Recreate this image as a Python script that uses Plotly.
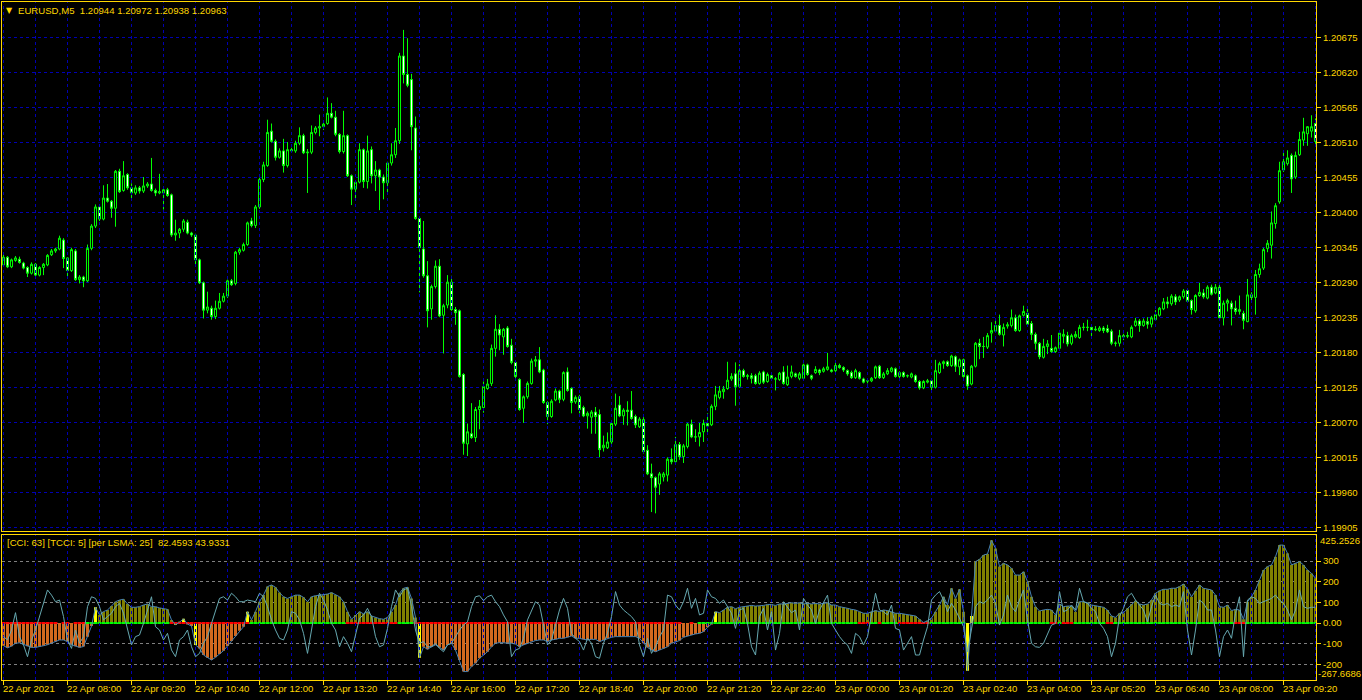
import pandas as pd
import plotly.graph_objects as go

# ---------------- data ----------------
times = pd.date_range("2021-04-22 06:40", periods=329, freq="5min")

open_ = [
1.20318,1.20330,1.20315,1.20325,1.20327,1.20321,1.20314,1.20305,1.20319,1.20302,
1.20314,1.20318,1.20334,1.20340,1.20343,1.20357,1.20329,1.20309,1.20340,1.20295,
1.20299,1.20293,1.20344,1.20379,1.20409,1.20390,1.20423,1.20418,1.20407,1.20465,
1.20435,1.20460,1.20439,1.20431,1.20439,1.20434,1.20442,1.20445,1.20435,1.20431,
1.20431,1.20436,1.20428,1.20365,1.20368,1.20374,1.20385,1.20368,1.20365,1.20326,
1.20290,1.20247,1.20250,1.20237,1.20250,1.20261,1.20269,1.20293,1.20289,1.20338,
1.20341,1.20350,1.20387,1.20380,1.20409,1.20452,1.20474,1.20528,1.20512,1.20487,
1.20497,1.20474,1.20499,1.20497,1.20509,1.20521,1.20494,1.20495,1.20526,1.20533,
1.20535,1.20540,1.20556,1.20550,1.20523,1.20496,1.20521,1.20458,1.20437,1.20448,
1.20499,1.20449,1.20499,1.20458,1.20467,1.20456,1.20447,1.20478,1.20491,1.20513,
1.20646,1.20617,1.20609,1.20533,1.20391,1.20343,1.20301,1.20249,1.20284,1.20316,
1.20239,1.20255,1.20291,1.20248,1.20246,1.20146,1.20037,1.20053,1.20047,1.20091,
1.20094,1.20124,1.20132,1.20187,1.20217,1.20205,1.20219,1.20192,1.20165,1.20138,
1.20093,1.20111,1.20132,1.20167,1.20169,1.20153,1.20102,1.20080,1.20106,1.20120,
1.20107,1.20150,1.20124,1.20103,1.20111,1.20094,1.20081,1.20079,1.20087,1.20083,
1.20031,1.20031,1.20040,1.20068,1.20098,1.20081,1.20090,1.20090,1.20080,1.20064,
1.20075,1.20027,1.19990,1.19984,1.19974,1.19985,1.19988,1.20013,1.20009,1.20036,
1.20017,1.20033,1.20068,1.20048,1.20048,1.20056,1.20069,1.20067,1.20096,1.20110,
1.20119,1.20124,1.20139,1.20147,1.20127,1.20152,1.20143,1.20144,1.20144,1.20132,
1.20150,1.20135,1.20144,1.20139,1.20138,1.20150,1.20130,1.20143,1.20147,1.20140,
1.20140,1.20161,1.20144,1.20149,1.20153,1.20151,1.20154,1.20153,1.20152,1.20160,
1.20157,1.20152,1.20149,1.20141,1.20149,1.20139,1.20136,1.20136,1.20141,1.20159,
1.20141,1.20147,1.20151,1.20155,1.20143,1.20149,1.20144,1.20142,1.20144,1.20135,
1.20125,1.20134,1.20136,1.20126,1.20149,1.20163,1.20166,1.20160,1.20174,1.20158,
1.20169,1.20144,1.20131,1.20159,1.20195,1.20190,1.20189,1.20211,1.20214,1.20223,
1.20208,1.20222,1.20223,1.20235,1.20215,1.20239,1.20242,1.20226,1.20209,1.20195,
1.20173,1.20190,1.20187,1.20182,1.20187,1.20206,1.20207,1.20195,1.20205,1.20204,
1.20220,1.20220,1.20220,1.20216,1.20215,1.20219,1.20218,1.20214,1.20195,1.20195,
1.20207,1.20206,1.20205,1.20223,1.20230,1.20223,1.20229,1.20225,1.20232,1.20239,
1.20249,1.20260,1.20257,1.20268,1.20263,1.20268,1.20278,1.20262,1.20246,1.20270,
1.20274,1.20266,1.20283,1.20274,1.20283,1.20235,1.20258,1.20258,1.20250,1.20245,
1.20242,1.20229,1.20271,1.20267,1.20303,1.20313,1.20344,1.20349,1.20383,1.20417,
1.20467,1.20477,1.20490,1.20456,1.20491,1.20514,1.20524,1.20528,1.20540]

high = [
1.20334,1.20332,1.20328,1.20332,1.20331,1.20323,1.20316,1.20322,1.20321,1.20316,
1.20321,1.20335,1.20343,1.20345,1.20364,1.20360,1.20330,1.20345,1.20343,1.20302,
1.20301,1.20350,1.20382,1.20413,1.20412,1.20443,1.20445,1.20420,1.20467,1.20469,
1.20481,1.20462,1.20446,1.20443,1.20442,1.20456,1.20448,1.20486,1.20438,1.20461,
1.20437,1.20439,1.20430,1.20389,1.20376,1.20390,1.20389,1.20370,1.20367,1.20328,
1.20292,1.20276,1.20254,1.20262,1.20274,1.20274,1.20295,1.20296,1.20340,1.20345,
1.20353,1.20386,1.20392,1.20412,1.20455,1.20480,1.20546,1.20540,1.20515,1.20501,
1.20516,1.20511,1.20502,1.20513,1.20534,1.20524,1.20500,1.20537,1.20536,1.20554,
1.20542,1.20581,1.20572,1.20560,1.20525,1.20560,1.20523,1.20460,1.20450,1.20509,
1.20501,1.20521,1.20504,1.20481,1.20469,1.20460,1.20480,1.20509,1.20533,1.20651,
1.20687,1.20674,1.20618,1.20551,1.20394,1.20387,1.20324,1.20287,1.20325,1.20327,
1.20257,1.20302,1.20301,1.20252,1.20248,1.20148,1.20069,1.20101,1.20095,1.20106,
1.20135,1.20139,1.20193,1.20239,1.20225,1.20219,1.20222,1.20202,1.20167,1.20140,
1.20113,1.20135,1.20171,1.20175,1.20189,1.20155,1.20104,1.20107,1.20124,1.20122,
1.20151,1.20157,1.20126,1.20113,1.20114,1.20097,1.20088,1.20090,1.20095,1.20091,
1.20050,1.20055,1.20072,1.20116,1.20112,1.20093,1.20104,1.20120,1.20083,1.20079,
1.20079,1.20035,1.20006,1.19986,1.19993,1.19993,1.20016,1.20030,1.20048,1.20040,
1.20037,1.20070,1.20075,1.20060,1.20070,1.20075,1.20085,1.20099,1.20128,1.20128,
1.20128,1.20166,1.20148,1.20165,1.20162,1.20155,1.20147,1.20148,1.20147,1.20151,
1.20152,1.20149,1.20146,1.20142,1.20150,1.20159,1.20160,1.20160,1.20149,1.20150,
1.20163,1.20163,1.20146,1.20159,1.20155,1.20158,1.20180,1.20155,1.20168,1.20163,
1.20159,1.20154,1.20152,1.20155,1.20151,1.20141,1.20140,1.20142,1.20160,1.20161,
1.20150,1.20156,1.20158,1.20157,1.20151,1.20151,1.20146,1.20149,1.20146,1.20137,
1.20137,1.20139,1.20138,1.20169,1.20166,1.20168,1.20168,1.20177,1.20176,1.20171,
1.20171,1.20146,1.20161,1.20197,1.20202,1.20205,1.20211,1.20228,1.20232,1.20240,
1.20226,1.20228,1.20248,1.20240,1.20240,1.20254,1.20250,1.20230,1.20212,1.20197,
1.20202,1.20200,1.20208,1.20190,1.20213,1.20217,1.20213,1.20210,1.20214,1.20224,
1.20227,1.20232,1.20224,1.20222,1.20222,1.20222,1.20224,1.20217,1.20198,1.20216,
1.20210,1.20213,1.20223,1.20235,1.20233,1.20234,1.20236,1.20238,1.20247,1.20252,
1.20266,1.20268,1.20272,1.20272,1.20270,1.20280,1.20280,1.20264,1.20272,1.20290,
1.20280,1.20286,1.20287,1.20288,1.20290,1.20262,1.20265,1.20262,1.20262,1.20270,
1.20246,1.20296,1.20275,1.20310,1.20320,1.20345,1.20357,1.20402,1.20415,1.20480,
1.20495,1.20498,1.20493,1.20496,1.20527,1.20549,1.20536,1.20553,1.20548]

low = [
1.20315,1.20313,1.20313,1.20323,1.20320,1.20311,1.20299,1.20303,1.20300,1.20300,
1.20302,1.20316,1.20332,1.20337,1.20341,1.20313,1.20297,1.20307,1.20293,1.20289,
1.20283,1.20291,1.20341,1.20376,1.20387,1.20388,1.20416,1.20392,1.20378,1.20431,
1.20433,1.20436,1.20420,1.20428,1.20430,1.20431,1.20439,1.20433,1.20426,1.20429,
1.20405,1.20425,1.20362,1.20356,1.20360,1.20370,1.20366,1.20362,1.20318,1.20288,
1.20234,1.20242,1.20232,1.20233,1.20248,1.20259,1.20266,1.20285,1.20286,1.20334,
1.20339,1.20348,1.20377,1.20376,1.20406,1.20448,1.20472,1.20510,1.20482,1.20485,
1.20463,1.20471,1.20494,1.20494,1.20506,1.20492,1.20431,1.20492,1.20523,1.20520,
1.20530,1.20538,1.20548,1.20520,1.20493,1.20493,1.20456,1.20412,1.20420,1.20446,
1.20439,1.20438,1.20446,1.20434,1.20404,1.20421,1.20431,1.20474,1.20486,1.20508,
1.20603,1.20597,1.20498,1.20389,1.20275,1.20298,1.20220,1.20232,1.20281,1.20236,
1.20179,1.20250,1.20246,1.20224,1.20141,1.20020,1.20018,1.20045,1.20040,1.20060,
1.20086,1.20122,1.20128,1.20174,1.20184,1.20177,1.20188,1.20162,1.20139,1.20089,
1.20070,1.20108,1.20130,1.20158,1.20148,1.20100,1.20068,1.20078,1.20104,1.20101,
1.20104,1.20119,1.20085,1.20100,1.20085,1.20079,1.20061,1.20053,1.20053,1.20016,
1.20025,1.20029,1.20037,1.20065,1.20079,1.20067,1.20066,1.20075,1.20062,1.20062,
1.20022,1.19988,1.19930,1.19928,1.19957,1.19978,1.19978,1.20005,1.20007,1.20012,
1.20007,1.20030,1.20046,1.20040,1.20033,1.20040,1.20054,1.20065,1.20090,1.20107,
1.20108,1.20122,1.20136,1.20097,1.20125,1.20141,1.20138,1.20132,1.20130,1.20130,
1.20131,1.20133,1.20138,1.20121,1.20136,1.20130,1.20128,1.20140,1.20141,1.20137,
1.20138,1.20144,1.20137,1.20147,1.20145,1.20149,1.20152,1.20149,1.20150,1.20155,
1.20150,1.20144,1.20139,1.20139,1.20138,1.20132,1.20132,1.20134,1.20139,1.20139,
1.20139,1.20145,1.20149,1.20141,1.20139,1.20141,1.20141,1.20140,1.20133,1.20122,
1.20123,1.20132,1.20121,1.20124,1.20147,1.20155,1.20158,1.20158,1.20150,1.20145,
1.20141,1.20122,1.20129,1.20157,1.20170,1.20172,1.20186,1.20196,1.20212,1.20207,
1.20190,1.20218,1.20220,1.20213,1.20213,1.20237,1.20222,1.20200,1.20185,1.20170,
1.20171,1.20178,1.20180,1.20180,1.20185,1.20195,1.20190,1.20192,1.20203,1.20202,
1.20215,1.20214,1.20206,1.20214,1.20213,1.20211,1.20211,1.20192,1.20190,1.20190,
1.20200,1.20203,1.20203,1.20221,1.20213,1.20221,1.20218,1.20220,1.20230,1.20237,
1.20247,1.20250,1.20254,1.20255,1.20260,1.20265,1.20259,1.20240,1.20243,1.20268,
1.20265,1.20264,1.20270,1.20272,1.20230,1.20223,1.20245,1.20223,1.20240,1.20240,
1.20217,1.20228,1.20260,1.20240,1.20298,1.20310,1.20338,1.20328,1.20375,1.20414,
1.20464,1.20474,1.20431,1.20453,1.20489,1.20505,1.20505,1.20518,1.20508]

close = [
1.20330,1.20315,1.20326,1.20329,1.20322,1.20313,1.20305,1.20319,1.20302,1.20314,
1.20319,1.20333,1.20340,1.20343,1.20360,1.20328,1.20309,1.20342,1.20295,1.20299,
1.20293,1.20344,1.20379,1.20409,1.20390,1.20423,1.20418,1.20407,1.20465,1.20433,
1.20458,1.20439,1.20431,1.20439,1.20434,1.20442,1.20445,1.20435,1.20431,1.20433,
1.20436,1.20427,1.20365,1.20368,1.20374,1.20387,1.20368,1.20365,1.20326,1.20290,
1.20247,1.20252,1.20237,1.20250,1.20261,1.20269,1.20293,1.20287,1.20338,1.20342,
1.20350,1.20384,1.20380,1.20409,1.20452,1.20475,1.20526,1.20512,1.20487,1.20497,
1.20474,1.20499,1.20497,1.20509,1.20521,1.20494,1.20495,1.20526,1.20533,1.20535,
1.20539,1.20556,1.20550,1.20523,1.20496,1.20521,1.20458,1.20437,1.20448,1.20499,
1.20449,1.20497,1.20458,1.20467,1.20456,1.20447,1.20478,1.20491,1.20513,1.20646,
1.20617,1.20600,1.20535,1.20391,1.20345,1.20301,1.20246,1.20284,1.20316,1.20238,
1.20254,1.20291,1.20248,1.20243,1.20143,1.20038,1.20056,1.20047,1.20091,1.20096,
1.20127,1.20131,1.20187,1.20217,1.20208,1.20217,1.20190,1.20165,1.20143,1.20091,
1.20111,1.20132,1.20167,1.20169,1.20150,1.20102,1.20080,1.20104,1.20120,1.20107,
1.20149,1.20121,1.20102,1.20110,1.20091,1.20081,1.20085,1.20087,1.20080,1.20028,
1.20035,1.20040,1.20069,1.20093,1.20081,1.20090,1.20088,1.20077,1.20067,1.20076,
1.20025,1.19990,1.19984,1.19969,1.19990,1.19990,1.20013,1.20009,1.20036,1.20017,
1.20034,1.20068,1.20048,1.20048,1.20055,1.20069,1.20065,1.20096,1.20114,1.20120,
1.20123,1.20137,1.20143,1.20127,1.20152,1.20143,1.20144,1.20140,1.20132,1.20148,
1.20134,1.20146,1.20140,1.20139,1.20148,1.20132,1.20142,1.20150,1.20143,1.20147,
1.20161,1.20146,1.20140,1.20154,1.20149,1.20155,1.20158,1.20151,1.20160,1.20157,
1.20153,1.20147,1.20141,1.20152,1.20140,1.20134,1.20136,1.20140,1.20158,1.20141,
1.20147,1.20152,1.20156,1.20143,1.20149,1.20143,1.20144,1.20147,1.20135,1.20125,
1.20135,1.20136,1.20126,1.20152,1.20163,1.20166,1.20160,1.20175,1.20159,1.20169,
1.20143,1.20128,1.20159,1.20195,1.20190,1.20190,1.20207,1.20215,1.20223,1.20209,
1.20220,1.20224,1.20235,1.20215,1.20238,1.20245,1.20225,1.20209,1.20195,1.20174,
1.20190,1.20194,1.20182,1.20188,1.20211,1.20209,1.20194,1.20207,1.20209,1.20220,
1.20220,1.20220,1.20216,1.20217,1.20219,1.20215,1.20213,1.20195,1.20195,1.20207,
1.20205,1.20207,1.20220,1.20230,1.20223,1.20230,1.20225,1.20235,1.20240,1.20250,
1.20260,1.20257,1.20269,1.20260,1.20268,1.20277,1.20261,1.20248,1.20270,1.20275,
1.20268,1.20283,1.20272,1.20283,1.20235,1.20258,1.20262,1.20249,1.20245,1.20248,
1.20231,1.20271,1.20267,1.20303,1.20312,1.20342,1.20352,1.20384,1.20411,1.20466,
1.20480,1.20486,1.20453,1.20490,1.20515,1.20527,1.20535,1.20535,1.20512]

# CCI(63) histogram values
cci_hist = [
-110,-120,-112,-98,-96,-104,-112,-118,-118,-115,
-110,-105,-98,-90,-82,-82,-90,-105,-113,-118,
-114,-66,-15,76,39,55,63,82,103,111,
115,92,76,76,79,87,92,79,79,73,
68,66,15,-8,4,20,-5,-15,-106,-123,
-155,-168,-179,-166,-150,-134,-111,-87,-63,-37,
-18,55,15,55,103,135,176,184,173,147,
127,119,127,135,135,124,103,127,132,135,
135,140,147,135,127,103,55,18,39,55,
44,55,34,27,21,18,27,55,87,144,
168,173,119,27,-168,-115,-127,-115,-106,-118,
-131,-106,-98,-131,-179,-235,-235,-211,-195,-171,
-155,-139,-115,-98,-95,-95,-98,-98,-102,-115,
-106,-98,-90,-85,-82,-82,-90,-82,-79,-74,
-74,-69,-63,-74,-74,-79,-82,-79,-79,-90,
-82,-74,-69,-66,-66,-63,-63,-63,-66,-74,
-98,-118,-131,-139,-131,-123,-115,-98,-90,-85,
-69,-63,-58,-53,-50,-42,-21,-5,55,50,
63,76,79,69,76,79,82,85,82,82,
85,89,89,85,92,92,95,98,95,98,
92,95,92,95,92,95,98,87,87,79,
76,71,66,63,55,47,47,55,60,55,
63,60,55,47,47,44,39,39,34,18,
2,11,23,55,87,127,87,168,119,163,
55,-231,34,297,308,329,334,400,361,273,
289,281,265,232,232,248,200,127,79,58,
63,66,63,39,92,79,82,82,55,103,
103,98,87,84,82,76,63,34,27,47,
50,71,92,108,92,87,92,111,144,156,
163,163,168,168,176,189,163,127,156,184,
168,163,160,135,79,76,87,60,66,63,
18,103,127,160,208,256,273,281,321,377,
377,337,281,289,297,281,256,240,216]

# TCCI(5) line values
tcci = [
-66,-82,-34,50,-66,-106,-163,-82,-34,31,
95,160,135,103,111,31,-82,-123,-34,-98,
-66,79,127,119,79,15,31,47,79,95,
47,-34,-106,-66,-58,-2,63,127,-18,-34,
-82,-50,-131,-163,-82,-66,-34,-115,-163,-147,
-98,-66,-2,63,119,127,111,144,127,103,
103,111,108,103,144,127,79,15,-34,-74,
-82,-34,55,47,15,-50,-147,-34,79,144,
111,63,-2,-34,-115,-66,-98,-139,-50,23,
39,71,31,-66,-115,-106,-26,79,160,127,
160,168,79,-34,-98,-90,-115,-115,-98,-123,
-139,-106,-98,-66,-34,-10,6,79,127,132,
108,127,135,103,79,39,6,-163,-131,-123,
-74,15,55,103,87,-2,-106,-82,-10,63,
119,71,-50,-74,-90,-131,-74,-98,-163,-171,
-98,-50,31,152,87,63,47,31,6,-106,
-163,-74,-147,-115,-66,-34,135,127,87,63,
103,168,71,119,39,47,160,127,119,95,
111,79,47,-26,63,71,-2,-115,-155,31,
71,-34,55,-131,-50,103,79,50,63,-34,
119,87,63,-2,63,103,135,-2,-34,-66,
-90,-106,-147,-50,-66,-106,-66,31,144,63,
55,39,87,-26,-34,-131,-98,-66,-155,-155,
-82,-18,111,135,152,111,55,95,63,23,
-18,-139,-34,79,103,95,111,135,95,-10,
39,135,79,55,111,160,15,-98,-115,-118,
-98,-50,-10,-2,152,55,63,87,63,168,
103,95,71,55,-2,-26,-66,-163,-98,31,
71,127,144,111,87,63,6,79,135,95,
87,95,79,87,79,152,-34,-155,-34,111,
95,63,63,-34,-163,-66,-34,-74,47,127,
-163,111,127,119,95,103,111,119,135,111,
95,63,15,63,160,79,71,76,76]

# bars where the histogram is drawn as a yellow signal bar
signal_bars = [23, 43, 45, 48, 61, 104, 178, 241, 242]

# zero-line state runs: R = red, G = green, - = none
zero_runs = [("R",14),("-",1),("R",2),("-",1),("R",3),("G",21),("R",20),("G",24),
             ("R",13),("G",4),("R",67),("-",2),("R",1),("-",1),("G",40),("R",3),
             ("G",2),("R",1),("G",4),("R",8),("G",9),("-",2),("G",19),("R",2),
             ("G",1),("R",3),("G",8),("R",2),("G",30),("R",3),("G",18)]

price_ticks = [1.20675,1.20620,1.20565,1.20510,1.20455,1.20400,1.20345,1.20290,
               1.20235,1.20180,1.20125,1.20070,1.20015,1.19960,1.19905]
ind_ticks = [300, 200, 100, 0, -100, -200]
ind_tick_text = ["300", "200", "100", "0.00", "-100", "-200"]

time_label_bars = list(range(0, 329, 16))
grid_bars = list(range(0, 329, 8))
time_labels = ["22 Apr 2021","22 Apr 08:00","22 Apr 09:20","22 Apr 10:40","22 Apr 12:00",
               "22 Apr 13:20","22 Apr 14:40","22 Apr 16:00","22 Apr 17:20","22 Apr 18:40",
               "22 Apr 20:00","22 Apr 21:20","22 Apr 22:40","23 Apr 00:00","23 Apr 01:20",
               "23 Apr 02:40","23 Apr 04:00","23 Apr 05:20","23 Apr 06:40","23 Apr 08:00",
               "23 Apr 09:20"]

header_main = "EURUSD,M5  1.20944 1.20972 1.20938 1.20963"
header_ind = "[CCI: 63] [TCCI: 5] [per LSMA: 25]  82.4593 43.9331"
ind_max_label = "425.2526"
ind_min_label = "-267.6686"

# ---------------- styling ----------------
GOLD = "#FFD700"
GRID = "#0000B4"
LEVEL = "#808080"
LIME = "#00FF00"
OLIVE = "#808000"
ORANGE = "#D2691E"
YELLOW = "#FFFF00"
FONT = "Liberation Sans"
FS = 9.6
DASH = "3px,3px"

MAIN_RANGE = [1.1990028, 1.207308]
IND_RANGE = [-275.8, 428.2]

bar_ms = 5 * 60 * 1000
# bar centres land on pixel centres (3.5 + 4*i) so 1-px lines stay crisp
x_start = times[0] - pd.Timedelta(milliseconds=0.375 * bar_ms)
x_end = times[0] + pd.Timedelta(milliseconds=328.125 * bar_ms)
fmt = "%Y-%m-%d %H:%M:%S.%f"
x_range = [x_start.strftime(fmt)[:-3], x_end.strftime(fmt)[:-3]]
grid_vals = [times[i].strftime("%Y-%m-%d %H:%M") for i in grid_bars]
label_vals = [times[i].strftime("%Y-%m-%d %H:%M") for i in time_label_bars]

hist_colors = []
for i, v in enumerate(cci_hist):
    if i in signal_bars:
        hist_colors.append(YELLOW)
    elif v >= 0:
        hist_colors.append(OLIVE)
    else:
        hist_colors.append(ORANGE)

zero_state = "".join(c * n for c, n in zero_runs)
red_x = [times[i] for i, c in enumerate(zero_state) if c == "R"]
green_x = [times[i] for i, c in enumerate(zero_state) if c == "G"]

def vgrid(rng):
    xs, ys = [], []
    for g in grid_vals:
        xs += [g, g, None]
        ys += [rng[0], rng[1], None]
    return xs, ys

fig = go.Figure()

gx, gy = vgrid(MAIN_RANGE)
fig.add_trace(go.Scatter(x=gx, y=gy, mode="lines", line=dict(color=GRID, width=1, dash=DASH),
                         xaxis="x", yaxis="y", hoverinfo="skip"))
gx2, gy2 = vgrid(IND_RANGE)
fig.add_trace(go.Scatter(x=gx2, y=gy2, mode="lines", line=dict(color=GRID, width=1, dash=DASH),
                         xaxis="x2", yaxis="y2", hoverinfo="skip"))

fig.add_trace(go.Candlestick(
    x=times, open=open_, high=high, low=low, close=close,
    increasing=dict(line=dict(color=LIME, width=1), fillcolor="#000000"),
    decreasing=dict(line=dict(color=LIME, width=1), fillcolor="#FFFFFF"),
    whiskerwidth=0, xaxis="x", yaxis="y", hoverinfo="skip"))

fig.add_trace(go.Bar(x=times, y=cci_hist, width=0.75 * bar_ms,
                     marker=dict(color=hist_colors, line=dict(width=0)),
                     xaxis="x2", yaxis="y2", hoverinfo="skip"))

for xs, col in ((red_x, "#FF0000"), (green_x, LIME)):
    fig.add_trace(go.Bar(x=xs, y=[10] * len(xs), base=-5, width=bar_ms * 0.95,
                         marker=dict(color=col, line=dict(width=0)),
                         xaxis="x2", yaxis="y2", hoverinfo="skip"))

fig.add_trace(go.Scatter(x=times, y=cci_hist, mode="lines",
                         line=dict(color="#4682B4", width=1),
                         xaxis="x2", yaxis="y2", hoverinfo="skip"))
fig.add_trace(go.Scatter(x=times, y=tcci, mode="lines",
                         line=dict(color="#66A8B0", width=1),
                         xaxis="x2", yaxis="y2", hoverinfo="skip"))

main_bottom = (680 - 531) / 678
ind_top = (680 - 534.5) / 678

axis_common = dict(showline=True, mirror=True, linecolor=GOLD, linewidth=1,
                   zeroline=False, gridcolor=GRID, griddash=DASH, gridwidth=1)

annotations = [
    dict(text="▼", xref="paper", yref="paper", x=0, y=1, xanchor="left", yanchor="middle",
         xshift=2, yshift=-8, showarrow=False, font=dict(family="DejaVu Sans", size=8, color=GOLD)),
    dict(text=header_main, xref="paper", yref="paper", x=0, y=1, xanchor="left", yanchor="middle",
         xshift=14, yshift=-8, showarrow=False, font=dict(family=FONT, size=FS, color=GOLD)),
    dict(text=header_ind, xref="paper", yref="y2 domain", x=0, y=1, xanchor="left", yanchor="middle",
         xshift=3, yshift=-7.5, showarrow=False, font=dict(family=FONT, size=FS, color=GOLD)),
    dict(text=ind_max_label, xref="paper", yref="y2 domain", x=1, y=1, xanchor="left", yanchor="middle",
         xshift=2, yshift=-5.5, showarrow=False, font=dict(family=FONT, size=FS, color=GOLD)),
    dict(text=ind_min_label, xref="paper", yref="y2 domain", x=1, y=0, xanchor="left", yanchor="middle",
         xshift=0, yshift=7, showarrow=False, font=dict(family=FONT, size=FS, color=GOLD)),
]
for v, t in zip(label_vals, time_labels):
    annotations.append(dict(text=t, xref="x2", yref="paper", x=v, y=0,
                            xanchor="left", yanchor="middle", xshift=-3, yshift=-8,
                            showarrow=False, font=dict(family=FONT, size=FS, color=GOLD)))

fig.update_layout(
    width=1362, height=700,
    margin=dict(l=2, r=46, t=2, b=20),
    paper_bgcolor="#000000", plot_bgcolor="#000000",
    showlegend=False, hovermode=False, barmode="overlay", boxgap=0.27,
    xaxis=dict(domain=[0, 1], anchor="y", type="date", range=x_range,
               showticklabels=False, ticks="", tickmode="array", tickvals=grid_vals,
               showgrid=False, rangeslider=dict(visible=False), **axis_common),
    yaxis=dict(domain=[main_bottom, 1], anchor="x", side="right",
               range=MAIN_RANGE, tickvals=price_ticks, tickformat=".5f",
               ticks="outside", ticklen=4, tickcolor=GOLD,
               tickfont=dict(family=FONT, size=FS, color=GOLD),
               showgrid=True, **axis_common),
    xaxis2=dict(domain=[0, 1], anchor="y2", type="date", range=x_range,
                showticklabels=False, ticks="", tickmode="array", tickvals=grid_vals,
                showgrid=False,
                minor=dict(tickmode="array", tickvals=label_vals, ticks="outside",
                           ticklen=4, tickcolor=GOLD, showgrid=False),
                **axis_common),
    yaxis2=dict(domain=[0, ind_top], anchor="x2", side="right",
                range=IND_RANGE, tickvals=ind_ticks, ticktext=ind_tick_text,
                ticks="outside", ticklen=4, tickcolor=GOLD,
                tickfont=dict(family=FONT, size=FS, color=GOLD),
                showgrid=True, showline=True, mirror=True, linecolor=GOLD, linewidth=1,
                zeroline=False, gridcolor=LEVEL, griddash=DASH, gridwidth=1),
    annotations=annotations,
)

fig.write_html("out.html", config={"displayModeBar": False},
               post_script="document.body.style.margin='0';document.body.style.padding='0';"
                           "document.body.style.overflow='hidden';")
